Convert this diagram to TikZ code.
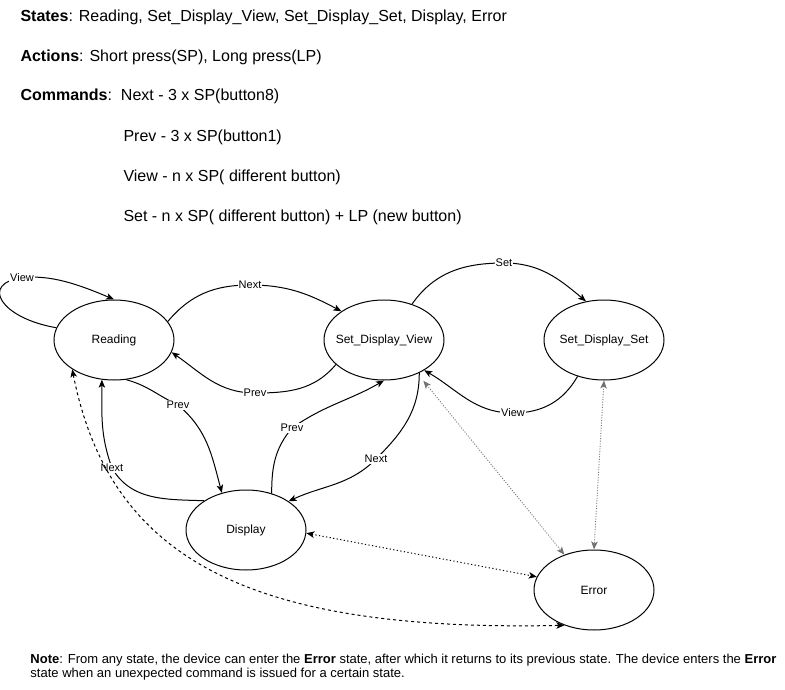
\documentclass[tikz,border=0pt]{standalone}
\usepackage{fontspec}
\setmainfont{Liberation Sans}
\usetikzlibrary{arrows.meta,shapes.geometric}

\tikzset{
  state/.style={draw,ellipse,minimum width=120pt,minimum height=80pt,inner sep=0pt,inner xsep=-20pt,font=\fontsize{12}{14}\selectfont},
  lbl/.style={fill=white,inner sep=1pt,font=\fontsize{11}{13}\selectfont},
  txt/.style={anchor=base west,inner sep=0pt,font=\fontsize{16}{19}\selectfont},
  notetxt/.style={anchor=north west,align=left,inner sep=0pt,font=\fontsize{13}{13.8}\selectfont},
  dotgray/.style={draw=black!55,line width=0.9pt,dash pattern=on 1pt off 1.6pt},
  dotblack/.style={line width=1pt,dash pattern=on 1.2pt off 2.4pt},
  dashline/.style={line width=1pt,dash pattern=on 3pt off 3pt}
}

\begin{document}
\begin{tikzpicture}[x=1pt,y=1pt,line width=1pt,>={Stealth[length=8pt,width=6.5pt,inset=2pt]}]
      \useasboundingbox (0,0) rectangle (785,-690);

      % legend on top
      \node [txt] (states) at (20,-22) {\textbf{States}: Reading, Set\_Display\_View, Set\_Display\_Set, Display, Error};
      \node [txt] (actions) at (20,-62) {\textbf{Actions}: Short press(SP), Long press(LP)};
      \node [txt] (cmds) at (20,-101) {\textbf{Commands}:\ \ Next - 3 x SP(button8)};
      \node [txt] (cprev) at (123,-142) {Prev - 3 x SP(button1)};
      \node [txt] (cview) at (123,-182) {View - n x SP( different button)};
      \node [txt] (cset) at (123,-222) {Set - n x SP( different button) + LP (new button)};

      % states
      \node [state] (read) at (114,-340) {Reading};
      \node [state] (sdv) at (384,-340) {Set\_Display\_View};
      \node [state] (sds) at (604,-340) {Set\_Display\_Set};
      \node [state] (disp) at (246,-530) {Display};
      \node [state] (err) at (594,-590) {Error};

      % transitions
      \draw [->] (read.168) .. controls (0,-318) and (-20,-283) .. (22,-278) node [lbl] {View}
            .. controls (50,-274) and (80,-285) .. (read.90);
      \draw [->] (read.19) to [out=50,in=180] (250,-285) node [lbl] {Next} to [out=0,in=152] (sdv.146);
      \draw [->] (sdv.207) to [out=230,in=0] (255,-393) node [lbl] {Prev} to [out=180,in=325] (read.348);
      \draw [->] (sdv.52) to [out=55,in=180] (504,-263) node [lbl] {Set} to [out=0,in=140] (sds.115);
      \draw [->] (sds.234) to [out=240,in=0] (513,-413) node [lbl] {View} to [out=180,in=330] (sdv.323);
      \draw [->] (read.287) to [out=-15,in=155] (178,-405) node [lbl] {Prev} to [out=-40,in=105] (disp.123);
      \draw [->] (disp.145) to [out=178,in=-60] (112,-468) node [lbl] {Next} to [out=110,in=270] (read.253);
      \draw [->] (disp.55) to [out=90,in=230] (292,-428) node [lbl] {Prev} to [out=35,in=210] (sdv.270);
      \draw [->] (sdv.317) to [out=270,in=45] (376,-459) node [lbl] {Next} to [out=225,in=25] (disp.34);

      % error links
      \draw [dotgray,<->] ([yshift=-10pt]sdv.322) -- (err.130);
      \draw [dotgray,<->] (sds.south) -- (err.north);
      \draw [dotblack,<->] (disp.357) -- (err.167);
      \draw [dashline,<->] (read.215) .. controls (110,-560) and (250,-632) .. (err.230);

      \node [notetxt] (note) at (30,-653.8) {%
        \textbf{Note}: From any state, the device can enter the \textbf{Error} state, after which it returns to its previous state. The device enters the \textbf{Error}\\
        state when an unexpected command is issued for a certain state.};
\end{tikzpicture}
\end{document}
